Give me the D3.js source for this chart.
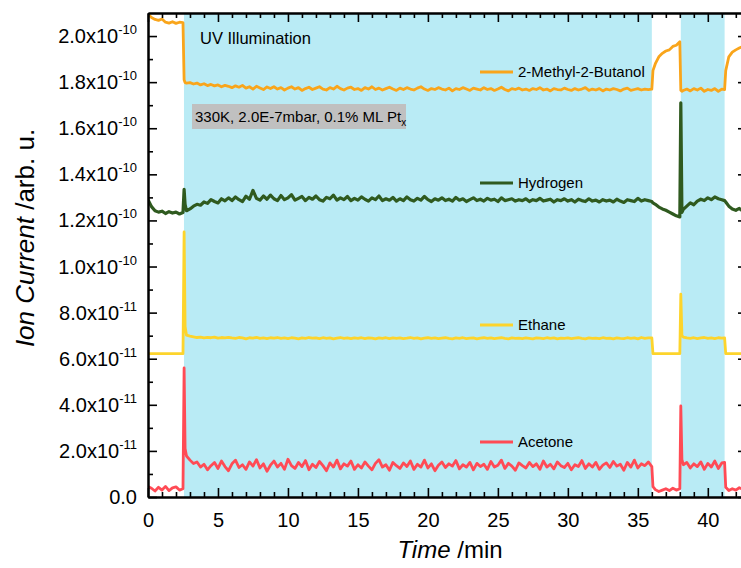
<!DOCTYPE html>
<html>
<head>
<meta charset="utf-8">
<script src="https://cdn.jsdelivr.net/npm/d3@7"></script>
<style>
  body { margin: 0; background: #fff; }
  svg { display: block; font-family: "Liberation Sans", Arial, sans-serif; }
</style>
</head>
<body>
<div id="chart"></div>
<script>
// time axis (min)
var T = [
  0,0.25,0.5,0.75,1,1.25,1.5,1.75,2,2.25,2.5,
  2.58,2.65,2.75,
  3,3.25,3.5,3.75,4,4.25,4.5,4.75,5,5.25,5.5,5.75,
  6,6.25,6.5,6.75,7,7.25,7.5,7.75,8,8.25,8.5,8.75,
  9,9.25,9.5,9.75,10,10.25,10.5,10.75,11,11.25,11.5,11.75,
  12,12.25,12.5,12.75,13,13.25,13.5,13.75,14,14.25,14.5,14.75,
  15,15.25,15.5,15.75,16,16.25,16.5,16.75,17,17.25,17.5,17.75,
  18,18.25,18.5,18.75,19,19.25,19.5,19.75,20,20.25,20.5,20.75,
  21,21.25,21.5,21.75,22,22.25,22.5,22.75,23,23.25,23.5,23.75,
  24,24.25,24.5,24.75,25,25.25,25.5,25.75,26,26.25,26.5,26.75,
  27,27.25,27.5,27.75,28,28.25,28.5,28.75,29,29.25,29.5,29.75,
  30,30.25,30.5,30.75,31,31.25,31.5,31.75,32,32.25,32.5,32.75,
  33,33.25,33.5,33.75,34,34.25,34.5,34.75,35,35.25,35.5,35.75,
  36,36.08,
  36.25,36.5,36.75,37,37.25,37.5,37.75,
  38,38.07,38.15,
  38.25,38.5,38.75,39,39.25,39.5,39.75,40,40.25,40.5,40.75,41,
  41.2,41.28,
  41.5,41.75,42,42.25,42.5
];

// ion currents, in units of 1e-11
var butanol = [
  20.95,20.8,20.72,20.68,20.74,20.6,20.56,20.62,20.55,20.6,20.58,
  18.1,17.98,17.96,
  17.98,17.92,17.96,17.88,17.93,17.85,17.9,17.84,17.88,17.8,17.86,17.82,
  17.76,17.84,17.78,17.86,17.74,17.8,17.7,17.82,17.75,17.68,17.79,17.72,
  17.8,17.7,17.76,17.66,17.74,17.8,17.7,17.76,17.64,17.72,17.78,17.68,
  17.74,17.8,17.7,17.66,17.76,17.7,17.82,17.72,17.66,17.74,17.78,17.68,
  17.72,17.64,17.76,17.7,17.8,17.68,17.74,17.66,17.72,17.78,17.7,17.64,
  17.74,17.68,17.76,17.7,17.66,17.74,17.8,17.7,17.64,17.72,17.68,17.76,
  17.7,17.66,17.74,17.62,17.72,17.68,17.76,17.7,17.64,17.74,17.7,17.66,
  17.76,17.68,17.72,17.64,17.7,17.78,17.68,17.62,17.72,17.68,17.74,17.66,
  17.7,17.64,17.72,17.68,17.76,17.66,17.7,17.62,17.72,17.68,17.66,17.74,
  17.68,17.64,17.72,17.66,17.7,17.76,17.64,17.7,17.66,17.72,17.62,17.7,
  17.66,17.72,17.68,17.62,17.7,17.74,17.64,17.68,17.72,17.66,17.7,17.68,
  17.7,18.5,
  18.8,19.1,19.25,19.35,19.4,19.55,19.6,
  19.75,17.65,17.6,
  17.64,17.7,17.62,17.72,17.66,17.74,17.6,17.68,17.64,17.72,17.6,17.7,
  17.68,18.5,
  19.1,19.3,19.4,19.48,19.55
];
var hydrogen = [
  12.9,12.6,12.42,12.36,12.4,12.3,12.38,12.32,12.36,12.28,12.34,
  13.35,12.7,12.42,
  12.5,12.62,12.7,12.66,12.8,12.74,12.9,12.82,12.76,12.94,12.85,12.98,
  12.86,13.02,12.9,12.82,13.05,12.92,13.3,12.96,12.88,13.06,12.92,13.1,
  12.94,12.86,13.08,12.9,12.98,13.12,12.88,12.96,13.04,12.86,13.0,12.92,
  13.06,12.9,12.84,13.0,12.94,13.1,12.88,12.98,12.9,13.04,12.86,12.96,
  12.88,13.02,12.92,12.84,12.98,12.9,13.06,12.86,12.94,12.88,13.0,12.84,
  12.94,12.86,13.02,12.9,12.84,12.96,12.88,13.04,12.9,12.82,12.94,12.88,
  12.98,12.86,12.92,12.84,13.0,12.88,12.94,12.82,12.9,12.98,12.86,12.92,
  12.84,12.96,12.88,12.92,12.82,12.98,12.86,12.9,12.94,12.84,12.9,12.86,
  12.94,12.82,12.9,12.86,12.96,12.84,12.88,12.92,12.8,12.9,12.86,12.94,
  12.84,12.9,12.8,12.92,12.86,12.82,12.94,12.84,12.88,12.8,12.9,12.84,
  12.88,12.8,12.92,12.84,12.78,12.9,12.86,12.82,12.96,12.84,12.9,12.86,
  12.82,12.76,
  12.7,12.58,12.5,12.44,12.36,12.28,12.2,
  12.15,17.1,12.35,
  12.48,12.62,12.76,12.68,12.84,12.92,12.86,12.98,12.9,13.02,12.94,12.9,
  12.86,12.8,
  12.62,12.5,12.44,12.52,12.4
];
var ethane = [
  6.22,6.22,6.22,6.22,6.22,6.22,6.22,6.22,6.22,6.22,6.22,
  11.5,7.4,7.02,
  6.98,6.95,6.92,6.94,6.9,6.93,6.91,6.94,6.89,6.92,6.9,6.93,
  6.9,6.88,6.92,6.9,6.86,6.91,6.89,6.93,6.88,6.9,6.87,6.91,
  6.89,6.92,6.88,6.9,6.87,6.91,6.89,6.86,6.9,6.88,6.92,6.89,
  6.9,6.87,6.91,6.88,6.9,6.86,6.89,6.92,6.88,6.9,6.87,6.9,
  6.88,6.91,6.87,6.9,6.89,6.86,6.9,6.88,6.91,6.87,6.9,6.88,
  6.9,6.87,6.89,6.92,6.88,6.9,6.86,6.89,6.91,6.88,6.9,6.87,
  6.89,6.91,6.88,6.86,6.9,6.88,6.91,6.87,6.89,6.9,6.86,6.89,
  6.91,6.88,6.9,6.87,6.89,6.91,6.88,6.86,6.9,6.88,6.89,6.87,
  6.9,6.88,6.86,6.9,6.89,6.87,6.91,6.88,6.9,6.86,6.89,6.88,
  6.9,6.87,6.89,6.91,6.88,6.86,6.9,6.88,6.89,6.87,6.91,6.88,
  6.89,6.86,6.9,6.88,6.87,6.91,6.88,6.9,6.86,6.92,6.88,6.9,
  6.9,6.22,
  6.22,6.22,6.22,6.22,6.22,6.22,6.22,
  6.22,8.8,7.0,
  6.94,6.9,6.88,6.91,6.87,6.9,6.92,6.88,6.9,6.87,6.91,6.89,
  6.9,6.22,
  6.22,6.22,6.22,6.22,6.22
];
var acetone = [
  0.45,0.38,0.26,0.42,0.3,0.46,0.28,0.4,0.44,0.3,0.36,
  5.6,2.1,1.78,
  1.6,1.45,1.52,1.3,1.42,1.18,1.36,1.5,1.24,1.56,1.32,1.14,
  1.44,1.6,1.28,1.4,1.2,1.52,1.34,1.62,1.26,1.44,1.12,1.38,
  1.56,1.3,1.46,1.2,1.64,1.36,1.24,1.5,1.32,1.58,1.18,1.42,
  1.28,1.54,1.36,1.14,1.48,1.3,1.6,1.22,1.44,1.34,1.56,1.2,
  1.4,1.26,1.52,1.34,1.18,1.46,1.62,1.3,1.4,1.16,1.5,1.36,
  1.24,1.48,1.32,1.56,1.2,1.42,1.3,1.6,1.26,1.44,1.14,1.38,
  1.52,1.28,1.44,1.34,1.58,1.22,1.4,1.3,1.5,1.18,1.46,1.32,
  1.42,1.2,1.54,1.3,1.38,1.6,1.24,1.46,1.34,1.16,1.48,1.36,
  1.26,1.5,1.32,1.44,1.2,1.56,1.3,1.42,1.22,1.52,1.36,1.28,
  1.46,1.18,1.4,1.32,1.58,1.24,1.44,1.3,1.5,1.2,1.38,1.48,
  1.28,1.54,1.34,1.42,1.16,1.5,1.3,1.6,1.26,1.44,1.36,1.52,
  1.32,0.45,
  0.32,0.24,0.3,0.36,0.28,0.38,0.3,
  0.36,3.95,1.62,
  1.4,1.5,1.26,1.44,1.32,1.52,1.2,1.46,1.3,1.56,1.24,1.48,
  1.5,0.42,
  0.28,0.36,0.3,0.4,0.34
];

var seriesNames = ["Acetone", "Ethane", "Hydrogen", "2-Methyl-2-Butanol"];
var uvStart = [2.57, 38.07],
    uvEnd   = [36.0, 41.2];
var xMajor = [0, 5, 10, 15, 20, 25, 30, 35, 40],
    yMajor = [0, 2, 4, 6, 8, 10, 12, 14, 16, 18, 20];

//:::::::::::::::::::::::::::::::::::::::::::::::::::::::::
var width = 741, height = 568,
    pLeft = 148, pRight = 747, pTop = 13, pBottom = 497;

var svg = d3.select("#chart").append("svg")
    .attr("width", width)
    .attr("height", height);

var xScale = d3.scaleLinear().domain([0, 42.8]).range([pLeft, pRight]),
    yScale = d3.scaleLinear().domain([0, 21]).range([pBottom, pTop]);

var colors = {
  "Acetone": "#ff4b55",
  "Ethane": "#fdd42c",
  "Hydrogen": "#2f5a1f",
  "2-Methyl-2-Butanol": "#f9a51b"
};
var values = { "Acetone": acetone, "Ethane": ethane, "Hydrogen": hydrogen, "2-Methyl-2-Butanol": butanol };

svg.append("clipPath").attr("id", "plotclip")
  .append("rect").attr("x", pLeft).attr("y", pTop)
  .attr("width", pRight - pLeft).attr("height", pBottom - pTop);

// UV illumination periods
svg.selectAll("rect.uv")
    .data(uvStart)
  .enter().append("rect")
    .attr("class", "uv")
    .attr("x", function (d) { return xScale(d); })
    .attr("width", function (d, i) { return xScale(uvEnd[i]) - xScale(d); })
    .attr("y", pTop)
    .attr("height", pBottom - pTop)
    .attr("fill", "#b9ebf5");

var line = d3.line()
    .x(function (d, i) { return xScale(T[i]); })
    .y(function (d) { return yScale(d); });

svg.append("g").attr("clip-path", "url(#plotclip)")
  .selectAll("path")
    .data(seriesNames)
  .enter().append("path")
    .attr("d", function (d) { return line(values[d]); })
    .attr("fill", "none")
    .attr("stroke", function (d) { return colors[d]; })
    .attr("stroke-width", function (d) { return d === "Hydrogen" ? 3.2 : 2.8; })
    .attr("stroke-linejoin", "round");

// frame + ticks (inward)
var xMinor = d3.range(0, 43).filter(function (v) { return v % 5 !== 0; }),
    yMinor = d3.range(1, 21, 2);

function styleAxis(g) {
  g.select(".domain").attr("stroke", "#000").attr("stroke-width", 2);
  g.selectAll(".tick line").attr("stroke", "#000").attr("stroke-width", 1.6);
}

var xAxis = svg.append("g").attr("transform", "translate(0," + pBottom + ")")
    .call(d3.axisBottom(xScale).tickValues(xMajor).tickSizeInner(-9).tickSizeOuter(0).tickPadding(16))
    .call(styleAxis);
xAxis.selectAll("text").attr("font-size", 20).attr("fill", "#000")
    .attr("font-family", '"Liberation Sans", Arial, sans-serif');

svg.append("g").attr("transform", "translate(0," + pBottom + ")")
    .call(d3.axisBottom(xScale).tickValues(xMinor).tickSizeInner(-5).tickSizeOuter(0).tickFormat(""))
    .call(styleAxis);

svg.append("g").attr("transform", "translate(0," + pTop + ")")
    .call(d3.axisTop(xScale).tickValues(xMajor).tickSizeInner(-9).tickSizeOuter(0).tickFormat(""))
    .call(styleAxis);
svg.append("g").attr("transform", "translate(0," + pTop + ")")
    .call(d3.axisTop(xScale).tickValues(xMinor).tickSizeInner(-5).tickSizeOuter(0).tickFormat(""))
    .call(styleAxis);

svg.append("g").attr("transform", "translate(" + pLeft + ",0)")
    .call(d3.axisLeft(yScale).tickValues(yMajor).tickSizeInner(-9).tickSizeOuter(0).tickFormat(""))
    .call(styleAxis);
svg.append("g").attr("transform", "translate(" + pLeft + ",0)")
    .call(d3.axisLeft(yScale).tickValues(yMinor).tickSizeInner(-5).tickSizeOuter(0).tickFormat(""))
    .call(styleAxis);

svg.append("g").attr("transform", "translate(" + pRight + ",0)")
    .call(d3.axisRight(yScale).tickValues(yMajor).tickSizeInner(-9).tickSizeOuter(0).tickFormat(""))
    .call(styleAxis);
svg.append("g").attr("transform", "translate(" + pRight + ",0)")
    .call(d3.axisRight(yScale).tickValues(yMinor).tickSizeInner(-5).tickSizeOuter(0).tickFormat(""))
    .call(styleAxis);

// y tick labels, "2.0x10^-11" style
var yLabels = svg.append("g").attr("font-size", 20).attr("fill", "#000");
yMajor.forEach(function (v) {
  var t = yLabels.append("text")
      .attr("x", 137)
      .attr("y", yScale(v) + 7)
      .attr("text-anchor", "end");
  if (v === 0) { t.text("0.0"); return; }
  var mant = v < 10 ? v.toFixed(1) : (v / 10).toFixed(1),
      expo = v < 10 ? "-11" : "-10";
  t.append("tspan").text(mant + "x10");
  t.append("tspan").attr("dy", -9).attr("font-size", 13).text(expo);
});

// axis titles
var yTitle = svg.append("text")
    .attr("transform", "translate(34,238) rotate(-90)")
    .attr("text-anchor", "middle")
    .attr("font-size", 26);
yTitle.append("tspan").attr("font-style", "italic").text("Ion Current");
yTitle.append("tspan").text(" /arb. u.");

var xTitle = svg.append("text")
    .attr("x", 450)
    .attr("y", 558)
    .attr("text-anchor", "middle")
    .attr("font-size", 24);
xTitle.append("tspan").attr("font-style", "italic").text("Time");
xTitle.append("tspan").text(" /min");

// annotations
svg.append("text").attr("x", 200).attr("y", 44).attr("font-size", 16.5).text("UV Illumination");

svg.append("rect").attr("x", 192).attr("y", 104).attr("width", 214).attr("height", 25).attr("fill", "#c0c0c0");
var cond = svg.append("text").attr("x", 195).attr("y", 122).attr("font-size", 15);
cond.append("tspan").text("330K, 2.0E-7mbar, 0.1% ML Pt");
cond.append("tspan").attr("dy", 4).attr("font-size", 10).text("x");

// legend, placed next to each trace
var legendY = { "2-Methyl-2-Butanol": 72, "Hydrogen": 183, "Ethane": 325, "Acetone": 442 };
var legend = svg.append("g").selectAll("g")
    .data(seriesNames)
  .enter().append("g")
    .attr("transform", function (d) { return "translate(480," + legendY[d] + ")"; });
legend.append("line")
    .attr("x1", 0).attr("x2", 33)
    .attr("stroke", function (d) { return colors[d]; })
    .attr("stroke-width", 2.8);
legend.append("text")
    .attr("x", 38).attr("y", 5)
    .attr("font-size", 15)
    .text(function (d) { return d; });
</script>
</body>
</html>
